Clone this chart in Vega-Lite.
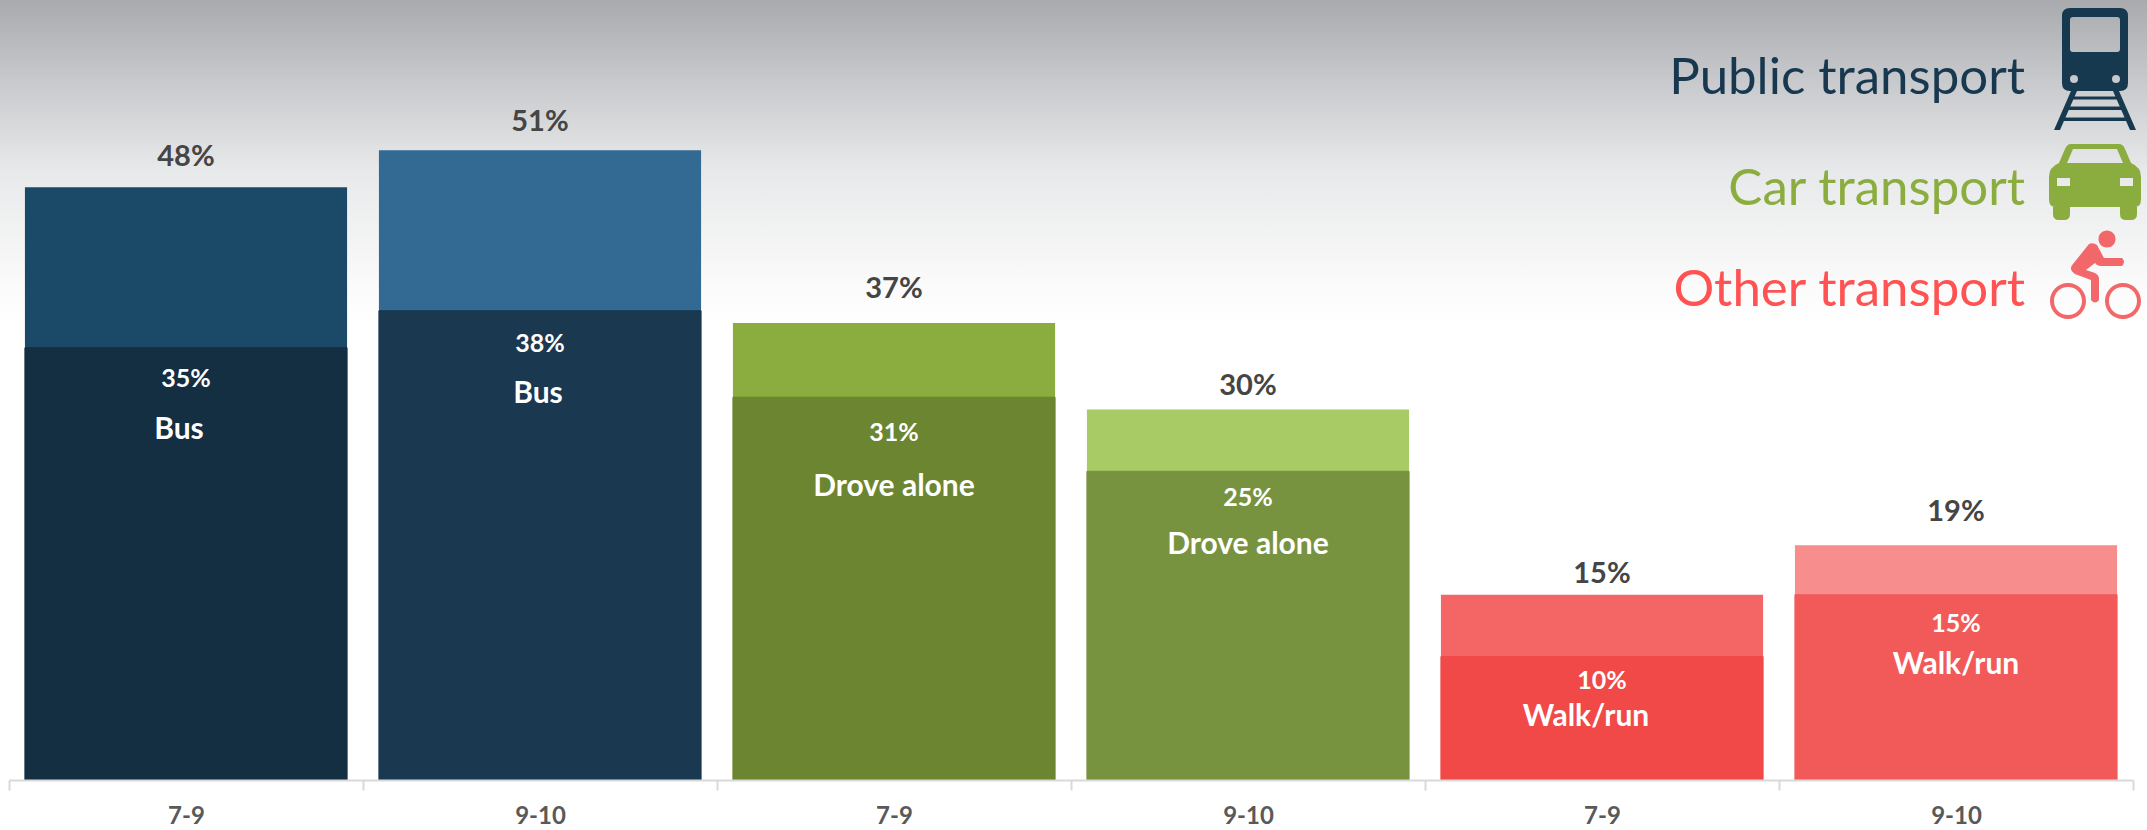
{
  "$schema": "https://vega.github.io/schema/vega-lite/v6.json",
  "width": 2147,
  "height": 780,
  "autosize": "none",
  "padding": {"left": 0, "top": 0, "right": 0, "bottom": 50},
  "background": "#ffffff",
  "view": {
    "stroke": null,
    "fill": {
      "gradient": "linear", "x1": 0, "y1": 0, "x2": 0, "y2": 1,
      "stops": [
        {"offset": 0, "color": "#A8AAAE"},
        {"offset": 0.1, "color": "#C6C8CB"},
        {"offset": 0.22, "color": "#E8E9EA"},
        {"offset": 0.37, "color": "#FBFBFB"},
        {"offset": 0.42, "color": "#FFFFFF"}
      ]
    }
  },
  "datasets": {
    "bars": [
      {"slot": "Public|7-9", "part": "all", "series": "Public 7-9 all", "share": 0.48},
      {"slot": "Public|9-10", "part": "all", "series": "Public 9-10 all", "share": 0.51},
      {"slot": "Car|7-9", "part": "all", "series": "Car 7-9 all", "share": 0.37},
      {"slot": "Car|9-10", "part": "all", "series": "Car 9-10 all", "share": 0.30},
      {"slot": "Other|7-9", "part": "all", "series": "Other 7-9 all", "share": 0.15},
      {"slot": "Other|9-10", "part": "all", "series": "Other 9-10 all", "share": 0.19},
      {"slot": "Public|7-9", "part": "main", "mode": "Bus", "series": "Public 7-9 main", "share": 0.35},
      {"slot": "Public|9-10", "part": "main", "mode": "Bus", "series": "Public 9-10 main", "share": 0.38},
      {"slot": "Car|7-9", "part": "main", "mode": "Drove alone", "series": "Car 7-9 main", "share": 0.31},
      {"slot": "Car|9-10", "part": "main", "mode": "Drove alone", "series": "Car 9-10 main", "share": 0.25},
      {"slot": "Other|7-9", "part": "main", "mode": "Walk/run", "series": "Other 7-9 main", "share": 0.10},
      {"slot": "Other|9-10", "part": "main", "mode": "Walk/run", "series": "Other 9-10 main", "share": 0.15}
    ],
    "key": [
      {"slot": "Other|9-10", "name": "Public transport", "icon": "train", "labelLevel": 0.5674, "iconLevel": 0.5757},
      {"slot": "Other|9-10", "name": "Car transport", "icon": "car", "labelLevel": 0.4775, "iconLevel": 0.4842},
      {"slot": "Other|9-10", "name": "Other transport", "icon": "bike", "labelLevel": 0.3958, "iconLevel": 0.4089}
    ]
  },
  "encoding": {
    "x": {
      "field": "slot",
      "type": "nominal",
      "sort": null,
      "scale": {
        "domain": ["Public|7-9", "Public|9-10", "Car|7-9", "Car|9-10", "Other|7-9", "Other|9-10"],
        "range": [9, 2133],
        "paddingInner": 0,
        "paddingOuter": 0
      },
      "axis": {
        "title": null,
        "labelExpr": "split(datum.label, '|')[1]",
        "labelAngle": 0,
        "labelFont": "Lato",
        "labelFontWeight": "bold",
        "labelFontSize": 24,
        "labelColor": "#595959",
        "labelPadding": 14,
        "domainColor": "#D9D9D9",
        "domainWidth": 2,
        "tickColor": "#D9D9D9",
        "tickWidth": 2,
        "tickSize": 10,
        "tickBand": "extent",
        "grid": false,
        "zindex": 1
      }
    }
  },
  "layer": [
    {
      "data": {"name": "bars"},
      "transform": [{"filter": "datum.part === 'all'"}],
      "mark": {"type": "bar", "width": {"band": 0.91}},
      "encoding": {
        "y": {"field": "share", "type": "quantitative", "stack": null, "scale": {"domain": [0, 0.6316], "nice": false, "zero": true}, "axis": null},
        "color": {
          "field": "series",
          "type": "nominal",
          "legend": null,
          "scale": {
            "domain": [
              "Public 7-9 all", "Public 9-10 all", "Car 7-9 all", "Car 9-10 all", "Other 7-9 all", "Other 9-10 all",
              "Public 7-9 main", "Public 9-10 main", "Car 7-9 main", "Car 9-10 main", "Other 7-9 main", "Other 9-10 main",
              "Public transport", "Car transport", "Other transport", "train", "car", "bike"
            ],
            "range": [
              "#1A4A68", "#326A94", "#8BAD3F", "#A8CB66", "#F46666", "#F78D8D",
              "#142E42", "#1A3850", "#6B8530", "#78933F", "#F14848", "#F25A5A",
              "#17384F", "#8BAD3F", "#FF5252", "#16394F", "#8BAD3F", "#F2686A"
            ]
          }
        }
      }
    },
    {
      "data": {"name": "bars"},
      "transform": [{"filter": "datum.part === 'main'"}],
      "mark": {"type": "bar", "width": {"band": 0.91}, "strokeWidth": 1},
      "encoding": {
        "y": {"field": "share", "type": "quantitative", "stack": null},
        "color": {"field": "series", "type": "nominal", "legend": null},
        "stroke": {"field": "series", "type": "nominal", "legend": null, "scale": {"domain": ["Public 7-9 main", "Public 9-10 main", "Car 7-9 main", "Car 9-10 main", "Other 7-9 main", "Other 9-10 main"], "range": ["#142E42", "#1A3850", "#6B8530", "#78933F", "#F14848", "#F25A5A"]}}
      }
    },
    {
      "data": {"name": "bars"},
      "transform": [{"filter": "datum.part === 'all'"}],
      "mark": {
        "type": "text", "font": "Lato", "fontWeight": "bold", "fontSize": 29, "color": "#454545", "baseline": "middle",
        "dy": {"expr": "({'Public 7-9 all': -30, 'Public 9-10 all': -28, 'Car 7-9 all': -34, 'Car 9-10 all': -24, 'Other 7-9 all': -21, 'Other 9-10 all': -33})[datum.series]"}
      },
      "encoding": {
        "y": {"field": "share", "type": "quantitative", "stack": null},
        "text": {"field": "share", "type": "quantitative", "format": ".0%"}
      }
    },
    {
      "data": {"name": "bars"},
      "transform": [{"filter": "datum.part === 'main'"}],
      "mark": {
        "type": "text", "font": "Lato", "fontWeight": "bold", "fontSize": 25, "color": "#FFFFFF", "baseline": "middle",
        "dy": {"expr": "({'Public 7-9 main': 31, 'Public 9-10 main': 33, 'Car 7-9 main': 36, 'Car 9-10 main': 27, 'Other 7-9 main': 24, 'Other 9-10 main': 29})[datum.series]"}
      },
      "encoding": {
        "y": {"field": "share", "type": "quantitative", "stack": null},
        "text": {"field": "share", "type": "quantitative", "format": ".0%"}
      }
    },
    {
      "data": {"name": "bars"},
      "transform": [{"filter": "datum.part === 'main'"}],
      "mark": {
        "type": "text", "font": "Lato", "fontWeight": "bold", "fontSize": 30, "color": "#FFFFFF", "baseline": "middle",
        "dx": {"expr": "({'Public 7-9 main': -7, 'Public 9-10 main': -2, 'Other 7-9 main': -16})[datum.series] || 0"},
        "dy": {"expr": "({'Public 7-9 main': 82, 'Public 9-10 main': 83, 'Car 7-9 main': 90, 'Car 9-10 main': 74, 'Other 7-9 main': 60, 'Other 9-10 main': 70})[datum.series]"}
      },
      "encoding": {
        "y": {"field": "share", "type": "quantitative", "stack": null},
        "text": {"field": "mode", "type": "nominal"}
      }
    },
    {
      "data": {"name": "key"},
      "mark": {"type": "text", "font": "Lato", "fontSize": 51, "align": "right", "baseline": "middle", "dx": 69},
      "encoding": {
        "y": {"field": "labelLevel", "type": "quantitative"},
        "text": {"field": "name", "type": "nominal"},
        "color": {"field": "name", "type": "nominal", "legend": null}
      }
    },
    {
      "data": {"name": "key"},
      "mark": {"type": "point", "filled": true, "opacity": 1, "size": 40000, "strokeWidth": 0, "xOffset": 139},
      "encoding": {
        "y": {"field": "iconLevel", "type": "quantitative"},
        "color": {"field": "icon", "type": "nominal", "legend": null},
        "shape": {
          "field": "icon",
          "type": "nominal",
          "legend": null,
          "scale": {
            "domain": ["train", "car", "bike"],
            "range": [
              "M-.25,-.61L.25,-.61Q.33,-.61 .33,-.53L.33,.14Q.33,.22 .25,.22L-.25,.22Q-.33,.22 -.33,.14L-.33,-.53Q-.33,-.61 -.25,-.61ZM-.22,-.52Q-.25,-.52 -.25,-.49L-.25,-.20Q-.25,-.17 -.22,-.17L.22,-.17Q.25,-.17 .25,-.20L.25,-.49Q.25,-.52 .22,-.52ZM-.25,.10Q-.25,.14 -.21,.14Q-.17,.14 -.17,.10Q-.17,.06 -.21,.06Q-.25,.06 -.25,.10ZM.17,.10Q.17,.14 .21,.14Q.25,.14 .25,.10Q.25,.06 .21,.06Q.17,.06 .17,.10ZM-.24,.22L-.18,.22L-.35,.61L-.41,.61ZM.18,.22L.24,.22L.41,.61L.35,.61ZM-.22,.275L.22,.275L.22,.305L-.22,.305ZM-.27,.375L.27,.375L.27,.41L-.27,.41ZM-.31,.485L.31,.485L.31,.52L-.31,.52Z",
              "M-.24,-.38L.24,-.38Q.28,-.38 .30,-.33L.36,-.19Q.46,-.15 .46,-.05L.46,.17Q.46,.25 .40,.25L.42,.25L.42,.32Q.42,.38 .36,.38L.31,.38Q.25,.38 .25,.32L.25,.25L-.25,.25L-.25,.32Q-.25,.38 -.31,.38L-.36,.38Q-.42,.38 -.42,.32L-.42,.25L-.40,.25Q-.46,.25 -.46,.17L-.46,-.05Q-.46,-.15 -.36,-.19L-.30,-.33Q-.28,-.38 -.24,-.38ZM-.22,-.33L-.28,-.19L.28,-.19L.22,-.33ZM-.38,-.04L-.38,.04L-.25,.04L-.25,-.04ZM.25,-.04L.25,.04L.38,.04L.38,-.04Z",
              "M-.45,.26C-.45,.16 -.37,.08 -.27,.08C-.17,.08 -.09,.16 -.09,.26C-.09,.36 -.17,.44 -.27,.44C-.37,.44 -.45,.36 -.45,.26ZM-.41,.26C-.41,.34 -.35,.40 -.27,.40C-.19,.40 -.13,.34 -.13,.26C-.13,.18 -.19,.12 -.27,.12C-.35,.12 -.41,.18 -.41,.26ZM.10,.26C.10,.16 .18,.08 .28,.08C.38,.08 .46,.16 .46,.26C.46,.36 .38,.44 .28,.44C.18,.44 .10,.36 .10,.26ZM.14,.26C.14,.34 .20,.40 .28,.40C.36,.40 .42,.34 .42,.26C.42,.18 .36,.12 .28,.12C.20,.12 .14,.18 .14,.26ZM.035,-.36C.035,-.41 .075,-.445 .12,-.445C.165,-.445 .205,-.41 .205,-.36C.205,-.31 .165,-.275 .12,-.275C.075,-.275 .035,-.31 .035,-.36ZM-.06,-.31Q-.02,-.33 .02,-.30L.09,-.17L.27,-.17Q.31,-.13 .27,-.09L.05,-.09Q.02,-.09 0,-.12L-.09,-.05L0,-.02Q.04,0 .04,.04L.04,.25Q0,.30 -.04,.25L-.04,.05L-.20,-.01Q-.27,-.06 -.22,-.11Z"
            ]
          }
        }
      }
    }
  ],
  "resolve": {"scale": {"stroke": "independent"}}
}
